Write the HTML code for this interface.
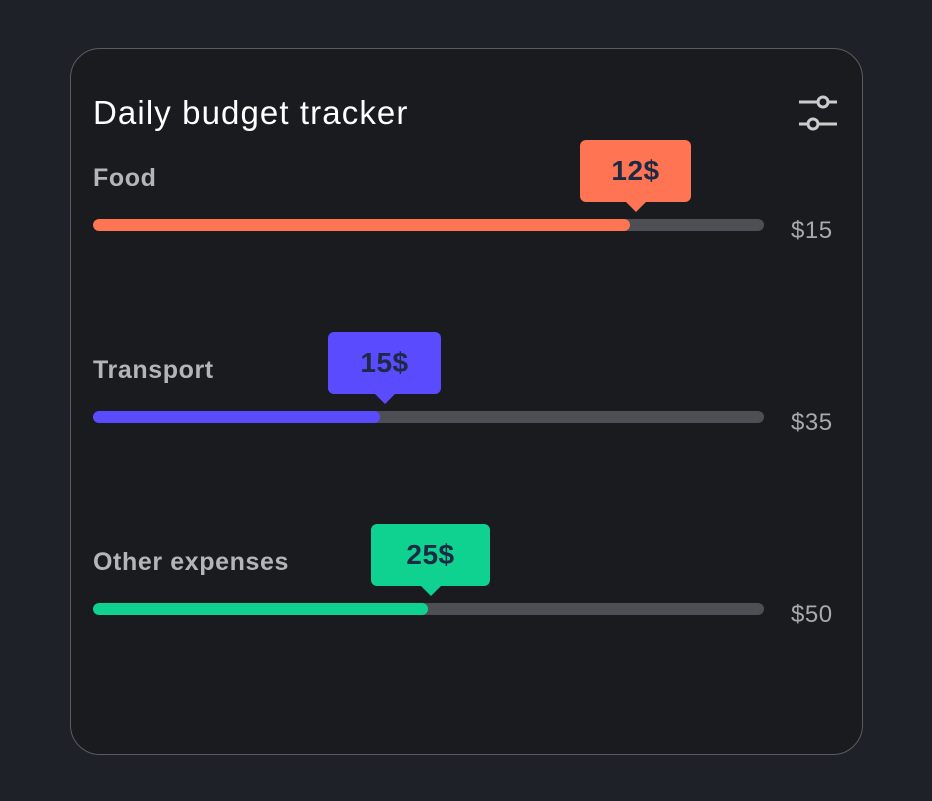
<!DOCTYPE html>
<html><head><style>
body{margin:0;width:932px;height:801px;background:#1f2129;position:relative;overflow:hidden;font-family:"Liberation Sans",sans-serif}
.card{position:absolute;left:70px;top:48px;width:791px;height:705px;border:1.5px solid #5a5b60;border-radius:30px;background:#1a1b1e}
.t{position:absolute;left:93px;top:94px;font-size:33px;color:#fff;letter-spacing:1.1px}
.lab{position:absolute;left:93px;font-size:25px;font-weight:bold;color:#b4b5b9;letter-spacing:0.6px}
.bar{position:absolute;left:93px;width:671px;height:12px;border-radius:6px;background:#4d4f54;overflow:hidden}
.bar div{height:100%;border-radius:6px}
.v{position:absolute;left:791px;font-size:24px;color:#a8a9ad;letter-spacing:0.5px}
.tip{position:absolute;height:62px;border-radius:6px;font-size:28px;font-weight:bold;color:#1d2a44;text-align:center;line-height:62px;letter-spacing:0.5px}
.tip:after{content:"";position:absolute;left:50%;bottom:-10px;margin-left:-10px;border-left:10px solid transparent;border-right:10px solid transparent;border-top:10px solid var(--c)}
</style></head><body>
<div class="card"></div>
<div class="t">Daily budget tracker</div>
<svg style="position:absolute;left:796px;top:94px" width="46" height="40">
<g stroke="#ccc" stroke-width="3" fill="#1a1b1e"><line x1="3" y1="8" x2="41" y2="8"/><line x1="3" y1="30" x2="41" y2="30"/><circle cx="27" cy="8" r="5"/><circle cx="17" cy="30" r="5"/></g></svg>

<div class="lab" style="top:164px">Food</div>
<div class="tip" style="left:580px;top:140px;width:111px;background:#ff7452;--c:#ff7452">12$</div>
<div class="bar" style="top:219px"><div style="width:537px;background:#ff7452"></div></div>
<div class="v" style="top:217px">$15</div>

<div class="lab" style="top:356px">Transport</div>
<div class="tip" style="left:328px;top:332px;width:113px;background:#5b4bff;--c:#5b4bff">15$</div>
<div class="bar" style="top:411px"><div style="width:287px;background:#5b4bff"></div></div>
<div class="v" style="top:409px">$35</div>

<div class="lab" style="top:548px">Other expenses</div>
<div class="tip" style="left:371px;top:524px;width:119px;background:#0fd190;--c:#0fd190">25$</div>
<div class="bar" style="top:603px"><div style="width:335px;background:#0fd190"></div></div>
<div class="v" style="top:601px">$50</div>
</body></html>
